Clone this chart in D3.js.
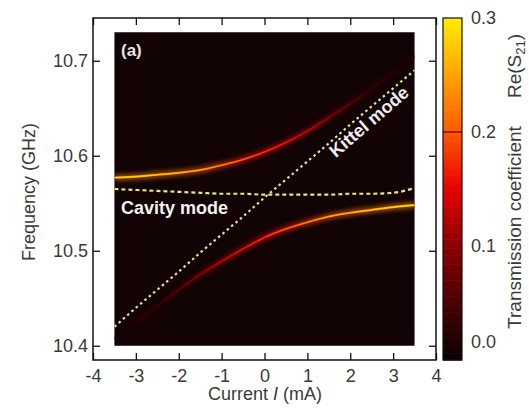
<!DOCTYPE html>
<html><head><meta charset="utf-8">
<script src="https://cdn.jsdelivr.net/npm/d3@7"></script>
<style>
body{margin:0;background:#fff;}
text{font-family:"Liberation Sans",Arial,sans-serif;}
</style>
</head><body>
<svg id="c" width="529" height="410"></svg>
<script>
// ---- data ----
const currents   = [-3.5,-3,-2.5,-2,-1.5,-1,-0.5,0,0.5,1,1.5,2,2.5,3,3.5];
const upperFreq  = [10.577,10.578,10.580,10.582,10.585,10.590,10.596,10.604,10.614,10.626,10.640,10.655,10.671,10.688,10.705];
const lowerFreq  = [10.407,10.425,10.442,10.459,10.475,10.489,10.502,10.514,10.523,10.530,10.536,10.540,10.543,10.546,10.548];
const upperAmp   = [0.24,0.24,0.23,0.22,0.21,0.19,0.17,0.15,0.13,0.11,0.08,0.05,0.03,0.02,0.01];
const lowerAmp   = [0.01,0.02,0.03,0.05,0.08,0.11,0.13,0.15,0.17,0.19,0.21,0.22,0.23,0.24,0.25];
const cavityFreq = [10.565,10.564,10.563,10.562,10.561,10.560,10.560,10.559,10.559,10.559,10.559,10.560,10.560,10.561,10.566];
const kittelFreq = [10.420,10.440,10.459,10.478,10.498,10.517,10.536,10.556,10.575,10.594,10.613,10.633,10.652,10.671,10.690];
const xTicks  = [-4,-3,-2,-1,0,1,2,3,4];
const yTicks  = [10.4,10.5,10.6,10.7];
const cbTicks = [0.0,0.1,0.2,0.3];

const svg = d3.select("#c");
const x = d3.scaleLinear().domain([-4,4]).range([93,436]);
const y = d3.scaleLinear().domain([10.385,10.745]).range([360,18]);
const color = d3.scaleLinear()
  .domain([0,0.05,0.1,0.15,0.2,0.3])
  .range(["#0a0000","#4a0000","#8c0000","#e80000","#ff5a00","#ffee00"])
  .clamp(true);

const defs = svg.append("defs");
defs.append("filter").attr("id","glow").attr("x","-20%").attr("y","-50%").attr("width","140%").attr("height","200%")
  .append("feGaussianBlur").attr("stdDeviation",2.2);
defs.append("clipPath").attr("id","img")
  .append("rect")
  .attr("x",x(-3.5)).attr("y",y(10.73))
  .attr("width",x(3.5)-x(-3.5)).attr("height",y(10.4)-y(10.73));

// image background
svg.append("rect")
  .attr("x",x(-3.5)).attr("y",y(10.73))
  .attr("width",x(3.5)-x(-3.5)).attr("height",y(10.4)-y(10.73))
  .attr("fill","#120305");

const plot = svg.append("g").attr("clip-path","url(#img)");

function gradient(id, amps, boost){
  const g = defs.append("linearGradient").attr("id",id)
    .attr("gradientUnits","userSpaceOnUse")
    .attr("x1",x(currents[0])).attr("x2",x(currents[currents.length-1]))
    .attr("y1",0).attr("y2",0);
  const span = currents[currents.length-1]-currents[0];
  currents.forEach((c,i)=>{
    g.append("stop").attr("offset",(c-currents[0])/span).attr("stop-color",color(amps[i]+boost*amps[i]));
  });
}
gradient("gu",upperAmp,0); gradient("gl",lowerAmp,0);
gradient("gu2",upperAmp,0.25); gradient("gl2",lowerAmp,0.25);

const line = d3.line().x(d=>x(d[0])).y(d=>y(d[1])).curve(d3.curveMonotoneX);
const branches = [
  {pts: currents.map((c,i)=>[c,upperFreq[i]]), g:"gu", g2:"gu2"},
  {pts: currents.map((c,i)=>[c,lowerFreq[i]]), g:"gl", g2:"gl2"}
];
branches.forEach(b=>{
  plot.append("path").attr("d",line(b.pts)).attr("fill","none")
    .attr("stroke",`url(#${b.g})`).attr("stroke-width",7).attr("opacity",0.45).attr("filter","url(#glow)");
  plot.append("path").attr("d",line(b.pts)).attr("fill","none")
    .attr("stroke",`url(#${b.g})`).attr("stroke-width",2.2);
  plot.append("path").attr("d",line(b.pts)).attr("fill","none")
    .attr("stroke",`url(#${b.g2})`).attr("stroke-width",0.9);
});

// guide lines
plot.append("path").attr("d",line(currents.map((c,i)=>[c,cavityFreq[i]])))
  .attr("fill","none").attr("stroke","#e3e87c").attr("stroke-width",2.2).attr("stroke-dasharray","4,3");
plot.append("path").attr("d",d3.line().x(d=>x(d[0])).y(d=>y(d[1]))(currents.map((c,i)=>[c,kittelFreq[i]])))
  .attr("fill","none").attr("stroke","#e2e687").attr("stroke-width",2.2).attr("stroke-dasharray","2.5,3.2");

// annotations
svg.append("text").attr("x",121).attr("y",56).attr("fill","#e4e4e4")
  .attr("font-size",17).attr("font-weight","bold").text("(a)");
svg.append("text").attr("x",121).attr("y",214).attr("fill","#f2f2f2")
  .attr("font-size",18).attr("font-weight","bold").text("Cavity mode");
const k0 = [x(currents[0]), y(kittelFreq[0])], k1 = [x(currents[14]), y(kittelFreq[14])];
const ang = Math.atan2(k0[1]-k1[1], k1[0]-k0[0])*180/Math.PI;
svg.append("text").attr("transform",`translate(${x(2.53)},${y(10.631)}) rotate(${-ang})`)
  .attr("text-anchor","middle").attr("fill","#eeeeee")
  .attr("font-size",18).attr("font-weight","bold").text("Kittel mode");

// axes
const tickCol = "#3a3a3a";
function styleAxis(g){
  g.select(".domain").remove();
  g.selectAll(".tick line").attr("stroke","#111").attr("stroke-width",1.3);
  g.selectAll("text").attr("fill",tickCol).attr("font-size",18).attr("font-family","Liberation Sans, Arial, sans-serif");
}
svg.append("g").attr("transform","translate(0,360)")
  .call(d3.axisBottom(x).tickValues(xTicks).tickSize(-7).tickPadding(9).tickFormat(d=>String(d))).call(styleAxis);
svg.append("g").attr("transform","translate(0,18)")
  .call(d3.axisTop(x).tickValues(xTicks).tickSize(-7).tickFormat("")).call(styleAxis);
svg.append("g").attr("transform","translate(93,0)")
  .call(d3.axisLeft(y).tickValues(yTicks).tickSize(-7).tickPadding(5).tickFormat(d=>d.toFixed(1))).call(styleAxis);
svg.append("g").attr("transform","translate(436,0)")
  .call(d3.axisRight(y).tickValues(yTicks).tickSize(-7).tickFormat("")).call(styleAxis);
svg.append("rect").attr("x",93).attr("y",18).attr("width",436-93).attr("height",360-18)
  .attr("fill","none").attr("stroke","#111").attr("stroke-width",1.5);

// axis labels
svg.append("text").attr("transform","translate(35,192) rotate(-90)")
  .attr("text-anchor","middle").attr("fill",tickCol).attr("font-size",18)
  .text("Frequency  (GHz)");
const xl = svg.append("text").attr("x",265).attr("y",400).attr("text-anchor","middle")
  .attr("fill",tickCol).attr("font-size",18);
xl.append("tspan").text("Current  ");
xl.append("tspan").attr("font-style","italic").text("I");
xl.append("tspan").text(" (mA)");

// colorbar
const cy = d3.scaleLinear().domain([0,0.3]).range([360,18]);
const cbVals = d3.range(0,0.3,0.002);
svg.append("g").selectAll("rect").data(cbVals).join("rect")
  .attr("x",443).attr("width",19)
  .attr("y",d=>cy(d+0.002)).attr("height",d=>cy(d)-cy(d+0.002)+0.6)
  .attr("fill",d=>color(d));
svg.append("line").attr("x1",443).attr("x2",462).attr("y1",cy(0.2)).attr("y2",cy(0.2))
  .attr("stroke","#5a0000").attr("stroke-width",1.2);
svg.append("rect").attr("x",443).attr("y",18).attr("width",19).attr("height",342)
  .attr("fill","none").attr("stroke","#111").attr("stroke-width",1.2);
svg.append("g").selectAll("text").data(cbTicks).join("text")
  .attr("x",471).attr("y",d=>Math.min(Math.max(cy(d),17),342)).attr("dy","0.35em")
  .attr("fill",tickCol).attr("font-size",18).text(d=>d.toFixed(1));
svg.append("text").attr("transform","translate(521,227.5) rotate(-90)")
  .attr("text-anchor","middle").attr("fill",tickCol).attr("font-size",19)
  .text("Transmission coefficient");
const rt = svg.append("text").attr("transform","translate(521,66) rotate(-90)")
  .attr("text-anchor","middle").attr("fill",tickCol).attr("font-size",19);
rt.append("tspan").text("Re(S");
rt.append("tspan").attr("font-size",13).attr("dy",4).text("21");
rt.append("tspan").attr("dy",-4).text(")");
</script>
</body></html>
